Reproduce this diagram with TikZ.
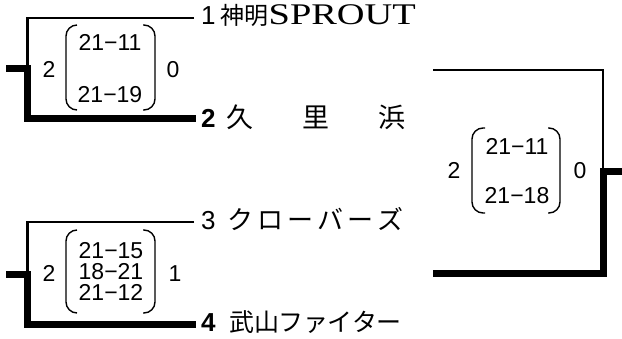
\documentclass[tikz,border=0pt]{standalone}
\usepackage{fontspec}
\setmainfont{Liberation Sans}
\newfontfamily\jp{Noto Sans CJK JP}
\newfontfamily\lserif{Liberation Serif}
\newcommand\jc[2]{\makebox[#1][l]{#2}}
\begin{document}
\begin{tikzpicture}[x=1pt,y=-1pt,
  thinln/.style={line width=2.8pt},
  thickln/.style={line width=7pt},
  paren/.style={line width=1.4pt,rounded corners=11pt},
  score/.style={font=\fontsize{23}{23}\selectfont,inner sep=0pt,text height=16.5pt,text depth=0pt},
  team/.style={anchor=base west,inner sep=0pt}]
\useasboundingbox (0,0) rectangle (622,338);
% ---------- upper-left bracket
\coordinate (a1) at (194,18);
\coordinate (a2) at (27.5,18);
\coordinate (a3) at (27.5,68);
\coordinate (a0) at (6,68);
\coordinate (a4) at (27.5,118);
\coordinate (a5) at (196,118);
\draw[thinln] (a1) -- (a2) -- (a3);
\draw[thickln] (a0) -- (a3) -- (a4) -- (a5);
% ---------- lower-left bracket
\coordinate (b1) at (194,222);
\coordinate (b2) at (27.5,222);
\coordinate (b3) at (27.5,274);
\coordinate (b0) at (6,274);
\coordinate (b4) at (27.5,324);
\coordinate (b5) at (196,324);
\draw[thinln] (b1) -- (b2) -- (b3);
\draw[thickln] (b0) -- (b3) -- (b4) -- (b5);
% ---------- right bracket
\coordinate (c1) at (433,70);
\coordinate (c2) at (603,70);
\coordinate (c3) at (603,171);
\coordinate (c0) at (622,171);
\coordinate (c4) at (603,273);
\coordinate (c5) at (433,273);
\draw[thinln] (c1) -- (c2) -- (c3);
\draw[thickln] (c0) -- (c3) -- (c4) -- (c5);
% ---------- team names
\node[team] (t1) at (201,24) {{\fontsize{26}{26}\selectfont 1}\hspace{5pt}{\jp\fontsize{24}{24}\selectfont 神明}\scalebox{1.28}[1]{\lserif\fontsize{30}{30}\selectfont SPROUT}};
\node[team] (t2) at (201,127) {{\fontsize{26}{26}\selectfont\bfseries 2}\hspace{11pt}{\jp\fontsize{27}{27}\selectfont\jc{76pt}{久}\jc{76pt}{里}浜}};
\node[team] (t3) at (201,229) {{\fontsize{26}{26}\selectfont 3}\hspace{12pt}{\jp\fontsize{26}{26}\selectfont\jc{30pt}{ク}\jc{30pt}{ロ}\jc{30pt}{ー}\jc{30pt}{バ}\jc{30pt}{ー}ズ}};
\node[team] (t4) at (201,331) {{\fontsize{26}{26}\selectfont\bfseries 4}\hspace{14pt}{\jp\fontsize{25}{25}\selectfont\jc{24.5pt}{武}\jc{24.5pt}{山}\jc{24.5pt}{フ}\jc{24.5pt}{ァ}\jc{24.5pt}{イ}\jc{24.5pt}{タ}ー}};
% ---------- scores upper-left
\node[score] (u2) at (49,69) {2};
\node[score] (u0) at (173,69) {0};
\node[score] (ua) at (110,42) {21−11};
\node[score] (ub) at (110,94) {21−19};
\draw[paren] (77,25) -- (66,25) -- (66,110) -- (77,110);
\draw[paren] (143,25) -- (155,25) -- (155,110) -- (143,110);
% ---------- scores lower-left
\node[score] (l2) at (49,273) {2};
\node[score] (l1) at (175,273) {1};
\node[score] (la) at (111,250) {21−15};
\node[score] (lb) at (111,271) {18−21};
\node[score] (lc) at (111,292) {21−12};
\draw[paren] (77,230) -- (66,230) -- (66,313) -- (77,313);
\draw[paren] (143,230) -- (155,230) -- (155,313) -- (143,313);
% ---------- scores final
\node[score] (r2) at (454,170) {2};
\node[score] (r0) at (580,170) {0};
\node[score] (ra) at (517,146) {21−11};
\node[score] (rb) at (517,195) {21−18};
\draw[paren] (485,128) -- (472,128) -- (472,213) -- (485,213);
\draw[paren] (548,128) -- (560,128) -- (560,213) -- (548,213);
\end{tikzpicture}
\end{document}
